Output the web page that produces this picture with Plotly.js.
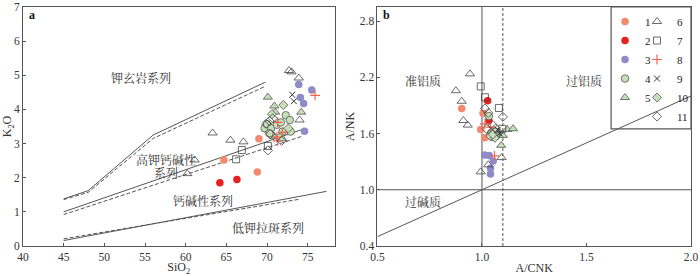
<!DOCTYPE html>
<html><head><meta charset="utf-8">
<script src="https://cdn.plot.ly/plotly-3.0.1.min.js"></script>
<style>body{margin:0;background:#fff}#c{width:700px;height:276px}</style>
</head><body><div id="c"></div>
<script>
// ---- series names ----
const seriesNames = ['1','2','3','4','5','6','7','8','9','10','11'];
// ---- panel a: SiO2 vs K2O ----
const a1x=[64.7,69.0,70.0,68.8], a1y=[2.52,3.14,3.40,2.17];
const a2x=[64.2,66.3], a2y=[1.85,1.95];
const a3x=[73.9,74.1,74.5,75.5,74.6], a3y=[4.73,4.35,4.17,4.57,3.36];
const a4x=[69.7,70.0,70.5,70.6,71.2,71.7,72.3,72.8,71.9,72.9,71.6,70.3], a4y=[3.45,3.57,3.45,3.24,3.55,3.62,3.83,3.69,3.35,3.35,3.18,3.30];
const a5x=[70.1,70.9,71.0,74.2,71.9], a5y=[4.36,4.10,3.92,3.92,3.14];
const a6x=[63.3,65.5,67.1,61.1,60.2,72.7,73.0,73.9,74.0], a6y=[3.31,3.10,3.05,2.52,2.12,5.14,5.10,4.92,3.69];
const a7x=[66.9,70.1,66.2], a7y=[2.81,2.93,2.54];
const a8x=[75.9,71.3,71.9,71.2,71.3], a8y=[4.41,3.62,3.33,3.19,3.08];
const a9x=[73.1,73.3], a9y=[4.43,4.24];
const a10x=[72.0,70.6,72.6], a10y=[4.13,3.86,3.45];
const a11x=[70.1,69.9,70.3,70.7,70.4,71.8], a11y=[2.80,3.58,3.66,3.74,3.28,3.08];
// boundary lines, panel a
const upSolidX=[45,48,56,69.8], upSolidY=[1.38,1.62,3.25,4.80];
const upDashX=[45,48,56,69.8], upDashY=[1.36,1.57,3.15,4.68];
const midSolidX=[45,74.4], midSolidY=[1.00,3.42];
const midDashX=[45,74.4], midDashY=[0.92,3.22];
const lowSolidX=[45,77.3], lowSolidY=[0.16,1.60];
const lowDashX=[45,74.0], lowDashY=[0.21,1.37];
const aLabels=['钾玄岩系列','高钾钙碱性','系列','钙碱性系列','低钾拉斑系列'];
const aLabelX=[54.5,57.6,57.6,62.1,70.1], aLabelY=[4.91,2.50,2.12,1.31,0.51];
// ---- panel b: A/CNK vs A/NK ----
const b1x=[0.903,1.005,0.994,1.013], b1y=[1.866,1.817,1.644,1.556];
const b2x=[1.027,1.033], b2y=[1.951,1.739];
const b3x=[1.013,1.035,1.054,1.041,1.041], b3y=[1.372,1.365,1.308,1.230,1.167];
const b4x=[1.041,1.049,1.062,1.073,1.033,1.046,1.065,1.068], b4y=[1.592,1.563,1.592,1.609,1.786,1.608,1.620,1.573];
const b5x=[1.121,1.149,1.100,1.092], b5y=[1.644,1.651,1.580,1.474];
const b6x=[0.943,0.875,0.903,0.911,0.932,0.994,1.030,1.094], b6y=[2.237,2.057,1.944,1.739,1.690,1.191,1.266,1.343];
const b7x=[0.994,1.014,1.081,1.097], b7y=[2.103,1.987,1.873,1.651];
const b8x=[1.014,1.060,1.041], b8y=[1.704,1.361,1.669];
const b9x=[1.075,1.085], b9y=[1.640,1.600];
const b10x=[1.041,1.062,1.052], b10y=[1.573,1.555,1.590];
const b11x=[1.014,1.030,1.021,1.052,1.100,1.065,1.081], b11y=[1.866,1.820,1.651,1.690,1.778,1.654,1.608];
// boundary lines, panel b
const diagX=[0.5,2.0], diagY=[0.5,2.0];
const v1X=[1.0,1.0], v1Y=[0.4,3.0];
const v2X=[1.1,1.1], v2Y=[0.4,3.0];
const hX=[0.5,2.0], hY=[1.0,1.0];
const bLabels=['准铝质','过铝质','过碱质'];
const bLabelX=[0.72,1.49,0.72], bLabelY=[2.157,2.157,0.867];

const FONT="'Liberation Serif', 'Noto Serif CJK SC', 'Noto Sans CJK SC', serif";
const LC='#555';
const styles=[
 {symbol:'circle',size:7.5,color:'#F4896E',line:{width:0}},
 {symbol:'circle',size:7.5,color:'#E5221F',line:{width:0}},
 {symbol:'circle',size:7.5,color:'#8D8BC9',line:{width:0}},
 {symbol:'circle',size:7.5,color:'#C5E0B8',line:{width:0.8,color:'#555'}},
 {symbol:'triangle-up',size:8,color:'#C5E0B8',line:{width:0.8,color:'#555'}},
 {symbol:'triangle-up-open',size:8,color:'#444',line:{width:0.8}},
 {symbol:'square-open',size:7,color:'#444',line:{width:0.8}},
 {symbol:'cross-thin-open',size:7,color:'#F06650',line:{width:1.2}},
 {symbol:'x-thin-open',size:6,color:'#333',line:{width:1}},
 {symbol:'diamond',size:7,color:'#C5E0B8',line:{width:0.8,color:'#555'}},
 {symbol:'diamond-open',size:7,color:'#444',line:{width:0.8}}
];
const aX=[a1x,a2x,a3x,a4x,a5x,a6x,a7x,a8x,a9x,a10x,a11x];
const aY=[a1y,a2y,a3y,a4y,a5y,a6y,a7y,a8y,a9y,a10y,a11y];
const bX=[b1x,b2x,b3x,b4x,b5x,b6x,b7x,b8x,b9x,b10x,b11x];
const bY=[b1y,b2y,b3y,b4y,b5y,b6y,b7y,b8y,b9y,b10y,b11y];

const traces=[];
function line(x,y,xa,ya,dash){traces.push({x:x,y:y,xaxis:xa,yaxis:ya,mode:'lines',line:{color:LC,width:1,dash:dash||'solid'},showlegend:false,hoverinfo:'skip'});}
line(upSolidX,upSolidY,'x','y'); line(upDashX,upDashY,'x','y','4px,2px');
line(midSolidX,midSolidY,'x','y'); line(midDashX,midDashY,'x','y','4px,2px');
line(lowSolidX,lowSolidY,'x','y'); line(lowDashX,lowDashY,'x','y','4px,2px');
line(diagX,diagY,'x2','y2'); line(v1X,v1Y,'x2','y2'); line(v2X,v2Y,'x2','y2','3px,2px'); line(hX,hY,'x2','y2');

for(let i=0;i<11;i++){
  traces.push({x:aX[i],y:aY[i],xaxis:'x',yaxis:'y',mode:'markers',type:'scatter',name:seriesNames[i],legendgroup:'g'+i,
    legend: i<5?'legend':'legend2', marker:styles[i], showlegend:true});
  traces.push({x:bX[i],y:bY[i],xaxis:'x2',yaxis:'y2',mode:'markers',type:'scatter',name:seriesNames[i],legendgroup:'g'+i,
    marker:styles[i], showlegend:false});
}

const ann=[];
aLabels.forEach((t,i)=>ann.push({x:aLabelX[i],y:aLabelY[i],xref:'x',yref:'y',text:t,showarrow:false,font:{family:FONT,size:12,color:'#333'}}));
bLabels.forEach((t,i)=>ann.push({x:bLabelX[i],y:bLabelY[i],xref:'x2',yref:'y2',text:t,showarrow:false,font:{family:FONT,size:12,color:'#333'}}));
ann.push({x:0.006,y:1.004,xref:'paper',yref:'paper',xanchor:'left',yanchor:'top',text:'<b>a</b>',showarrow:false,font:{family:FONT,size:12,color:'#111'}});
ann.push({x:0.536,y:1.004,xref:'paper',yref:'paper',xanchor:'left',yanchor:'top',text:'<b>b</b>',showarrow:false,font:{family:FONT,size:12,color:'#111'}});

const axBase={showline:true,mirror:true,linecolor:LC,linewidth:1,showgrid:false,zeroline:false,ticks:'inside',ticklen:3,tickcolor:LC,
  ticklabeloverflow:'allow',tickfont:{family:FONT,size:11.5,color:'#333'}};
const layout={
  width:700,height:276,margin:{l:23,r:8,t:7,b:30},paper_bgcolor:'#fff',plot_bgcolor:'#fff',
  font:{family:FONT,color:'#333'},
  xaxis:Object.assign({},axBase,{domain:[0,0.4664],range:[40,78.3],tickvals:[40,45,50,55,60,65,70,75],
    title:{text:'SiO<sub>2</sub>',font:{family:FONT,size:12},standoff:1}}),
  yaxis:Object.assign({},axBase,{domain:[0,1],range:[0,7.0],tickvals:[0,1,2,3,4,5,6,7],
    title:{text:'K<sub>2</sub>O',font:{family:FONT,size:12},standoff:2}}),
  xaxis2:Object.assign({},axBase,{domain:[0.5306,1],range:[0.5,2.0],tickvals:[0.5,1.0,1.5,2.0],tickformat:'.1f',anchor:'y2',
    title:{text:'A/CNK',font:{family:FONT,size:12},standoff:1}}),
  yaxis2:Object.assign({},axBase,{domain:[0,1],range:[0.4,2.95],tickvals:[0.4,1.0,1.6,2.2,2.8],tickformat:'.1f',anchor:'x2',
    title:{text:'A/NK',font:{family:FONT,size:12},standoff:2}}),
  legend:{x:0.8700,y:1,xanchor:'left',yanchor:'top',bgcolor:'rgba(0,0,0,0)',borderwidth:0,font:{family:FONT,size:11,color:'#222'},tracegroupgap:0,itemwidth:30},
  legend2:{x:0.9178,y:1,xanchor:'left',yanchor:'top',bgcolor:'rgba(0,0,0,0)',borderwidth:0,font:{family:FONT,size:11,color:'#222'},tracegroupgap:0,itemwidth:30},
  shapes:[{type:'rect',xref:'paper',yref:'paper',x0:0.8804,x1:1,y0:0.49,y1:1,line:{color:LC,width:1.2},fillcolor:'rgba(0,0,0,0)',layer:'below'}],
  annotations:ann
};
Plotly.newPlot('c',traces,layout,{staticPlot:true});
</script></body></html>
